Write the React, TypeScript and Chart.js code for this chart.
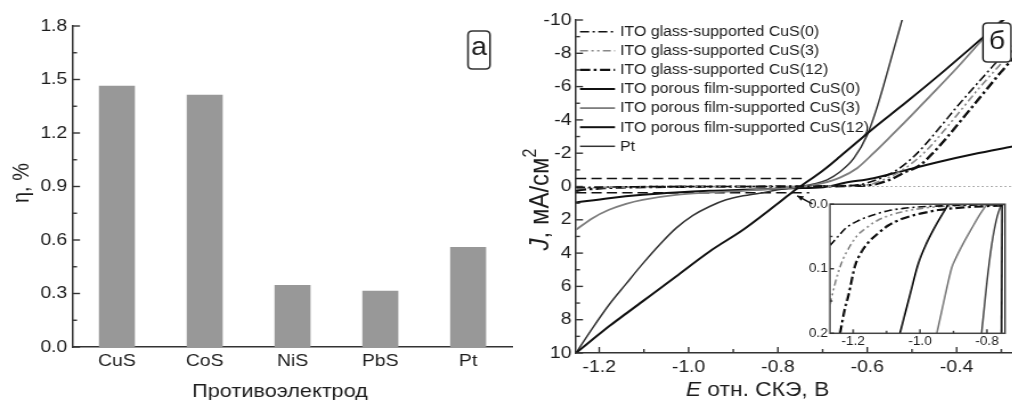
import React, { useEffect, useRef } from 'react';
import { Chart, registerables } from 'chart.js';

Chart.register(...registerables);

// horizontal stretch of the reference figure
const S = 1.14;
const FONT = "'Liberation Sans', Arial, Helvetica, sans-serif";
const INK = '#1c1c1c';
const AXIS = '#333';

// ---------- Panel а : efficiency bars ----------
const electrodes = ['CuS', 'CoS', 'NiS', 'PbS', 'Pt'];
const efficiency = [1.465, 1.415, 0.348, 0.316, 0.561];

// ---------- Panel б : polarization curves (E, V vs SCE ; J, mA/cm2) ----------
const glass0E = [-1.252, -1.2, -1.1, -1.0, -0.9, -0.8, -0.7, -0.62, -0.58, -0.55, -0.533, -0.5, -0.474, -0.436, -0.399, -0.36, -0.32, -0.29, -0.27];
const glass0J = [0.06, 0.035, 0.012, 0.004, 0.002, 0.0, -0.02, -0.1, -0.4, -0.75, -1.0, -1.7, -2.4, -3.6, -4.8, -6.0, -7.2, -8.1, -8.7];
const glass3E = [-1.252, -1.22, -1.16, -1.1, -1.0, -0.9, -0.8, -0.7, -0.6, -0.56, -0.53, -0.5, -0.47, -0.43, -0.39, -0.35, -0.31, -0.28, -0.27];
const glass3J = [0.14, 0.08, 0.04, 0.018, 0.008, 0.003, 0.0, -0.02, -0.1, -0.45, -0.85, -1.4, -2.1, -3.3, -4.6, -5.9, -7.1, -8.0, -8.3];
const glass12E = [-1.252, -1.24, -1.21, -1.19, -1.15, -1.095, -1.025, -0.945, -0.87, -0.75, -0.65, -0.59, -0.55, -0.52, -0.481, -0.45, -0.42, -0.38, -0.34, -0.3, -0.27];
const glass12J = [0.26, 0.2, 0.14, 0.095, 0.06, 0.033, 0.018, 0.009, 0.005, 0.0, -0.03, -0.1, -0.4, -0.8, -1.3, -2.1, -3.0, -4.3, -5.6, -6.9, -7.8];
const por0E = [-1.252, -1.178, -1.103, -1.028, -0.953, -0.878, -0.804, -0.766, -0.75, -0.7, -0.661, -0.586, -0.511, -0.43, -0.339, -0.3, -0.275];
const por0J = [10, 8.4, 6.9, 5.4, 3.9, 2.6, 1.1, 0.3, 0, -0.95, -1.8, -3.5, -5.1, -6.9, -9.0, -9.9, -10.4];
const por3E = [-1.252, -1.215, -1.178, -1.14, -1.103, -1.028, -0.953, -0.878, -0.8, -0.74, -0.7, -0.66, -0.623, -0.586, -0.55, -0.511, -0.466, -0.4, -0.343, -0.3, -0.275];
const por3J = [2.6, 1.9, 1.4, 1.04, 0.8, 0.5, 0.36, 0.26, 0.12, 0, -0.2, -0.55, -1.1, -2.0, -2.95, -4.0, -5.25, -7.1, -8.8, -10.0, -10.7];
const por12E = [-1.252, -1.178, -1.103, -1.028, -0.953, -0.878, -0.766, -0.698, -0.65, -0.586, -0.511, -0.436, -0.361, -0.275];
const por12J = [0.96, 0.7, 0.5, 0.36, 0.26, 0.2, 0.1, 0.04, -0.22, -0.5, -1.0, -1.5, -1.95, -2.4];
const ptE = [-1.252, -1.215, -1.178, -1.14, -1.103, -1.065, -1.028, -0.991, -0.953, -0.916, -0.878, -0.841, -0.8, -0.77, -0.75, -0.72, -0.69, -0.66, -0.63, -0.6, -0.58, -0.56, -0.54, -0.52, -0.51];
const ptJ = [10, 8.5, 7.1, 5.85, 4.65, 3.5, 2.5, 1.75, 1.2, 0.8, 0.56, 0.4, 0.2, 0.08, 0, -0.15, -0.4, -0.9, -1.7, -3.1, -4.6, -6.4, -8.3, -10.2, -11.2];
const zeroE = [-0.66, -0.275];
const zeroJ = [0, 0];
const zoomTopE = [-1.252, -0.745];
const zoomTopJ = [-0.48, -0.48];
const zoomBottomE = [-1.252, -0.73];
const zoomBottomJ = [0.38, 0.38];
const arrowE = [-0.723, -0.757];
const arrowJ = [1.04, 0.56];

// ---------- Inset ----------
const inGlass0E = [-1.269, -1.245, -1.224, -1.19, -1.164, -1.13, -1.095, -1.05, -0.995, -0.93, -0.86, -0.8, -0.746];
const inGlass0J = [0.064, 0.05, 0.038, 0.027, 0.021, 0.015, 0.01, 0.0065, 0.004, 0.0025, 0.0015, 0.001, 0.0005];
const inGlass3E = [-1.269, -1.255, -1.244, -1.23, -1.214, -1.19, -1.164, -1.13, -1.095, -1.055, -1.015, -0.95, -0.87, -0.8, -0.746];
const inGlass3J = [0.155, 0.125, 0.105, 0.085, 0.069, 0.05, 0.038, 0.026, 0.018, 0.012, 0.008, 0.004, 0.002, 0.001, 0.0005];
const inGlass12E = [-1.239, -1.226, -1.214, -1.194, -1.175, -1.154, -1.125, -1.095, -1.06, -1.025, -0.985, -0.945, -0.87, -0.8, -0.746];
const inGlass12J = [0.2, 0.165, 0.141, 0.095, 0.074, 0.059, 0.045, 0.033, 0.024, 0.018, 0.013, 0.009, 0.005, 0.003, 0.002];
const inPor12E = [-1.06, -1.045, -1.03, -1.005, -0.98, -0.95, -0.915];
const inPor12J = [0.2, 0.17, 0.14, 0.092, 0.06, 0.03, 0];
const inPor3E = [-0.95, -0.935, -0.92, -0.905, -0.897, -0.87, -0.846, -0.82, -0.8];
const inPor3J = [0.2, 0.165, 0.13, 0.098, 0.088, 0.06, 0.038, 0.015, 0];
const inPtE = [-0.816, -0.808, -0.8, -0.785, -0.77, -0.757];
const inPtJ = [0.2, 0.16, 0.12, 0.06, 0.02, 0];
const inPor0E = [-0.7565, -0.7555, -0.7545];
const inPor0J = [0.2, 0.1, 0];

const pts = (xs: number[], ys: number[]) => xs.map((x, i) => ({ x, y: ys[i] }));

type Run = { t: string; italic?: boolean; sup?: boolean };

function drawRuns(ctx: CanvasRenderingContext2D, runs: Run[], cx: number, cy: number, size: number) {
  const fonts = runs.map(r => `${r.italic ? 'italic ' : ''}${r.sup ? Math.round(size * 0.65) : size}px ${FONT}`);
  let total = 0;
  const widths = runs.map((r, i) => {
    ctx.font = fonts[i];
    const w = ctx.measureText(r.t).width;
    total += w;
    return w;
  });
  let x = cx - total / 2;
  ctx.textAlign = 'left';
  ctx.textBaseline = 'middle';
  runs.forEach((r, i) => {
    ctx.font = fonts[i];
    ctx.fillText(r.t, x, cy - (r.sup ? size * 0.35 : 0));
    x += widths[i];
  });
}

function roundBox(ctx: CanvasRenderingContext2D, x: number, y: number, w: number, h: number, r: number) {
  ctx.beginPath();
  ctx.moveTo(x + r, y);
  ctx.lineTo(x + w - r, y);
  ctx.quadraticCurveTo(x + w, y, x + w, y + r);
  ctx.lineTo(x + w, y + h - r);
  ctx.quadraticCurveTo(x + w, y + h, x + w - r, y + h);
  ctx.lineTo(x + r, y + h);
  ctx.quadraticCurveTo(x, y + h, x, y + h - r);
  ctx.lineTo(x, y + r);
  ctx.quadraticCurveTo(x, y, x + r, y);
  ctx.closePath();
}

function tickPlugin(axes: { id: string; major: number; minor: number }[]) {
  return {
    id: 'innerTicks',
    afterDraw(chart: any) {
      const ctx: CanvasRenderingContext2D = chart.ctx;
      const { left, bottom } = chart.chartArea;
      ctx.save();
      ctx.strokeStyle = AXIS;
      ctx.lineWidth = 1.4;
      for (const ax of axes) {
        const scale = chart.scales[ax.id];
        const vals: number[] = scale.ticks.map((t: any) => t.value);
        const step = vals.length > 1 ? vals[1] - vals[0] : 0;
        const lo = Math.min(scale.min, scale.max);
        const hi = Math.max(scale.min, scale.max);
        const minors: number[] = [];
        if (step) {
          for (const v of vals) {
            for (const m of [v - step / 2, v + step / 2]) {
              if (m >= lo - 1e-9 && m <= hi + 1e-9 && !minors.some(q => Math.abs(q - m) < 1e-9)) minors.push(m);
            }
          }
        }
        const draw = (v: number, len: number) => {
          const p = scale.getPixelForValue(v);
          ctx.beginPath();
          if (scale.isHorizontal()) {
            ctx.moveTo(p, bottom);
            ctx.lineTo(p, bottom - len);
          } else {
            ctx.moveTo(left, p);
            ctx.lineTo(left + len / S, p);
          }
          ctx.stroke();
        };
        vals.forEach(v => draw(v, ax.major));
        minors.forEach(v => draw(v, ax.minor));
      }
      ctx.restore();
    },
  };
}

const tickFont = (size: number) => ({ size, family: FONT });

export default function App() {
  const aRef = useRef<HTMLCanvasElement>(null);
  const bRef = useRef<HTMLCanvasElement>(null);
  const iRef = useRef<HTMLCanvasElement>(null);

  const WA = Math.round(520 / S);
  const WB = Math.round(492 / S);
  const WI = Math.round(212 / S);

  useEffect(() => {
    Chart.defaults.font.family = FONT;
    Chart.defaults.color = INK;

    // ----- Panel а -----
    const aDecor = {
      id: 'aDecor',
      afterDraw(chart: any) {
        const ctx: CanvasRenderingContext2D = chart.ctx;
        ctx.save();
        ctx.fillStyle = INK;
        ctx.textAlign = 'center';
        ctx.textBaseline = 'middle';
        ctx.font = `19px ${FONT}`;
        ctx.fillText('Противоэлектрод', 280 / S, 392);
        ctx.save();
        ctx.translate(22 / S, 183);
        ctx.rotate(-Math.PI / 2);
        ctx.font = `20px ${FONT}`;
        ctx.fillText('η, %', 0, 0);
        ctx.restore();
        ctx.fillStyle = '#fff';
        ctx.strokeStyle = AXIS;
        ctx.lineWidth = 1.6;
        roundBox(ctx, 468 / S, 31, 22 / S, 38, 4);
        ctx.fill();
        ctx.stroke();
        ctx.fillStyle = INK;
        ctx.font = `25px ${FONT}`;
        ctx.textAlign = 'center';
        ctx.textBaseline = 'middle';
        ctx.fillText('а', 479 / S, 48);
        ctx.restore();
      },
    };

    const ca = new Chart(aRef.current!, {
      type: 'bar',
      data: {
        labels: electrodes,
        datasets: [
          {
            data: efficiency,
            backgroundColor: '#989898',
            borderWidth: 0,
            categoryPercentage: 1,
            barPercentage: 0.41,
          },
        ],
      },
      options: {
        responsive: false,
        animation: false,
        events: [],
        layout: { padding: { left: 0, top: 26, right: WA - 512 / S, bottom: 0 } },
        plugins: { legend: { display: false }, tooltip: { enabled: false } },
        scales: {
          x: {
            grid: { display: false, drawTicks: false },
            border: { display: true, color: AXIS, width: 1.5 },
            ticks: { font: tickFont(17), color: INK, padding: 4, maxRotation: 0 },
            afterFit: (s: any) => { s.height = 400 - 347; },
          },
          y: {
            min: 0,
            max: 1.8,
            grid: { display: false, drawTicks: false },
            border: { display: true, color: AXIS, width: 1.5 },
            ticks: {
              stepSize: 0.3,
              font: tickFont(17),
              color: INK,
              padding: 5,
              callback: (v: any) => Number(v).toFixed(1),
            },
            afterFit: (s: any) => { s.width = 73 / S; },
          },
        },
      },
      plugins: [tickPlugin([{ id: 'y', major: 7, minor: 4 }]), aDecor],
    } as any);

    // ----- Panel б -----
    const lineDs = (label: string | undefined, xs: number[], ys: number[], color: string, width: number, dash: number[] = []) => ({
      label,
      data: pts(xs, ys),
      borderColor: color,
      borderWidth: width,
      borderDash: dash,
      pointRadius: 0,
      fill: false,
      cubicInterpolationMode: 'monotone',
      borderCapStyle: 'butt',
    });

    const bDecor = {
      id: 'bDecor',
      afterDraw(chart: any) {
        const ctx: CanvasRenderingContext2D = chart.ctx;
        const ca2 = chart.chartArea;
        const xs = chart.scales.x;
        const ys = chart.scales.y;
        ctx.save();
        // arrow toward inset
        const x1 = xs.getPixelForValue(arrowE[0]);
        const y1 = ys.getPixelForValue(arrowJ[0]);
        const x2 = xs.getPixelForValue(arrowE[1]);
        const y2 = ys.getPixelForValue(arrowJ[1]);
        ctx.strokeStyle = '#111';
        ctx.fillStyle = '#111';
        ctx.lineWidth = 1.5;
        ctx.beginPath();
        ctx.moveTo(x1, y1);
        ctx.lineTo(x2, y2);
        ctx.stroke();
        const ang = Math.atan2(y2 - y1, x2 - x1);
        ctx.beginPath();
        ctx.moveTo(x2, y2);
        ctx.lineTo(x2 - 6 * Math.cos(ang - 0.45), y2 - 6 * Math.sin(ang - 0.45));
        ctx.lineTo(x2 - 6 * Math.cos(ang + 0.45), y2 - 6 * Math.sin(ang + 0.45));
        ctx.closePath();
        ctx.fill();
        // legend
        let k = 0;
        chart.data.datasets.forEach((ds: any) => {
          if (!ds.label) return;
          const y = ca2.top + 11.7 + k * 19.1;
          ctx.strokeStyle = ds.borderColor;
          ctx.lineWidth = ds.borderWidth;
          ctx.setLineDash(ds.borderDash || []);
          ctx.beginPath();
          ctx.moveTo(ca2.left + 4 / S, y);
          ctx.lineTo(ca2.left + 39 / S, y);
          ctx.stroke();
          ctx.setLineDash([]);
          ctx.fillStyle = INK;
          ctx.font = `14px ${FONT}`;
          ctx.textAlign = 'left';
          ctx.textBaseline = 'middle';
          ctx.fillText(ds.label, ca2.left + 44 / S, y + 0.5);
          k++;
        });
        // panel letter
        ctx.fillStyle = '#fff';
        ctx.strokeStyle = AXIS;
        ctx.lineWidth = 1.6;
        roundBox(ctx, (983 - 520) / S, 23, 28 / S, 39, 4);
        ctx.fill();
        ctx.stroke();
        ctx.fillStyle = INK;
        ctx.font = `25px ${FONT}`;
        ctx.textAlign = 'center';
        ctx.textBaseline = 'middle';
        ctx.fillText('б', (997 - 520) / S, 42);
        // axis titles
        ctx.fillStyle = INK;
        drawRuns(ctx, [{ t: 'E', italic: true }, { t: ' отн. СКЭ, В' }], (757.5 - 520) / S, 390, 20);
        ctx.save();
        ctx.translate((541 - 520) / S, 199.5);
        ctx.rotate(-Math.PI / 2);
        drawRuns(ctx, [{ t: 'J', italic: true }, { t: ', мА/см' }, { t: '2', sup: true }], 0, 0, 24);
        ctx.restore();
        ctx.restore();
      },
    };

    const cb = new Chart(bRef.current!, {
      type: 'line',
      data: {
        datasets: [
          lineDs('ITO glass-supported CuS(0)', glass0E, glass0J, '#111', 1.6, [8, 3, 2, 3]),
          lineDs('ITO glass-supported CuS(3)', glass3E, glass3J, '#888', 1.6, [7, 3, 2, 3, 2, 3]),
          lineDs('ITO glass-supported CuS(12)', glass12E, glass12J, '#111', 2.4, [9, 3, 2.5, 3]),
          lineDs('ITO porous film-supported CuS(0)', por0E, por0J, '#111', 2),
          lineDs('ITO porous film-supported CuS(3)', por3E, por3J, '#7d7d7d', 1.8),
          lineDs('ITO porous film-supported CuS(12)', por12E, por12J, '#111', 2),
          lineDs('Pt', ptE, ptJ, '#333', 1.5),
          lineDs(undefined, zeroE, zeroJ, '#9a9a9a', 1.2, [1.5, 2.5]),
          lineDs(undefined, zoomTopE, zoomTopJ, '#111', 1.5, [9, 4.5]),
          lineDs(undefined, zoomBottomE, zoomBottomJ, '#111', 1.5, [9, 4.5]),
        ],
      },
      options: {
        responsive: false,
        animation: false,
        events: [],
        layout: { padding: { left: 0, top: 20, right: 0, bottom: 0 } },
        plugins: { legend: { display: false }, tooltip: { enabled: false } },
        scales: {
          x: {
            type: 'linear',
            min: -1.252,
            max: -0.275,
            grid: { display: false, drawTicks: false },
            border: { display: true, color: AXIS, width: 1.5 },
            ticks: {
              stepSize: 0.2,
              includeBounds: false,
              autoSkip: false,
              maxRotation: 0,
              font: tickFont(17),
              color: INK,
              padding: 4,
              callback: (v: any) => Number(v).toFixed(1),
            },
            afterFit: (s: any) => { s.height = 400 - 353; },
          },
          y: {
            type: 'linear',
            reverse: true,
            min: -10,
            max: 10,
            grid: { display: false, drawTicks: false },
            border: { display: true, color: AXIS, width: 1.5 },
            ticks: {
              stepSize: 2,
              autoSkip: false,
              font: tickFont(17),
              color: INK,
              padding: 4,
              callback: (v: any) => String(Math.round(Number(v))),
            },
            afterFit: (s: any) => { s.width = (576 - 520) / S; },
          },
        },
      },
      plugins: [tickPlugin([{ id: 'x', major: 6, minor: 4 }, { id: 'y', major: 7, minor: 4 }]), bDecor],
    } as any);

    // ----- Inset -----
    const iFrame = {
      id: 'iFrame',
      beforeDraw(chart: any) {
        const { left, top, right, bottom } = chart.chartArea;
        const ctx: CanvasRenderingContext2D = chart.ctx;
        ctx.save();
        ctx.fillStyle = '#fff';
        ctx.fillRect(left, top, right - left, bottom - top);
        ctx.restore();
      },
      afterDraw(chart: any) {
        const { left, top, right, bottom } = chart.chartArea;
        const ctx: CanvasRenderingContext2D = chart.ctx;
        ctx.save();
        ctx.strokeStyle = '#444';
        ctx.lineWidth = 1.5;
        ctx.strokeRect(left, top, right - left, bottom - top);
        ctx.restore();
      },
    };

    const ci = new Chart(iRef.current!, {
      type: 'line',
      data: {
        datasets: [
          lineDs(undefined, inGlass0E, inGlass0J, '#111', 1.6, [7, 3, 2, 3]),
          lineDs(undefined, inGlass3E, inGlass3J, '#888', 1.6, [6, 3, 2, 3, 2, 3]),
          lineDs(undefined, inGlass12E, inGlass12J, '#111', 2.2, [8, 3, 2.5, 3]),
          lineDs(undefined, inPor12E, inPor12J, '#111', 1.7),
          lineDs(undefined, inPor3E, inPor3J, '#7d7d7d', 1.6),
          lineDs(undefined, inPtE, inPtJ, '#444', 1.5),
          lineDs(undefined, inPor0E, inPor0J, '#111', 1.7),
        ],
      },
      options: {
        responsive: false,
        animation: false,
        events: [],
        layout: { padding: { left: 0, top: 8.3, right: WI - 205 / S, bottom: 0 } },
        plugins: { legend: { display: false }, tooltip: { enabled: false } },
        scales: {
          x: {
            type: 'linear',
            min: -1.269,
            max: -0.746,
            grid: { display: false, drawTicks: false },
            border: { display: false },
            ticks: {
              stepSize: 0.2,
              includeBounds: false,
              autoSkip: false,
              maxRotation: 0,
              font: tickFont(12),
              color: INK,
              padding: 1,
              callback: (v: any) => Number(v).toFixed(1),
            },
            afterFit: (s: any) => { s.height = 160 - 138.3; },
          },
          y: {
            type: 'linear',
            reverse: true,
            min: 0,
            max: 0.2,
            grid: { display: false, drawTicks: false },
            border: { display: false },
            ticks: {
              stepSize: 0.1,
              autoSkip: false,
              font: tickFont(12),
              color: INK,
              padding: 2,
              callback: (v: any) => Number(v).toFixed(1),
            },
            afterFit: (s: any) => { s.width = 30 / S; },
          },
        },
      },
      plugins: [iFrame, tickPlugin([{ id: 'x', major: 4, minor: 2.5 }, { id: 'y', major: 4, minor: 2.5 }])],
    } as any);

    return () => {
      ca.destroy();
      cb.destroy();
      ci.destroy();
    };
  }, []);

  const wrap = (left: number, top: number): React.CSSProperties => ({
    position: 'absolute',
    left,
    top,
    transform: `scaleX(${S})`,
    transformOrigin: '0 0',
  });

  return (
    <div
      style={{
        position: 'fixed',
        left: 0,
        top: 0,
        width: 1012,
        height: 400,
        overflow: 'hidden',
        background: '#fff',
      }}
    >
      <div style={wrap(0, 0)}>
        <canvas ref={aRef} width={WA} height={400} />
      </div>
      <div style={wrap(520, 0)}>
        <canvas ref={bRef} width={WB} height={400} />
      </div>
      <div style={wrap(800, 195)}>
        <canvas ref={iRef} width={WI} height={160} />
      </div>
    </div>
  );
}
